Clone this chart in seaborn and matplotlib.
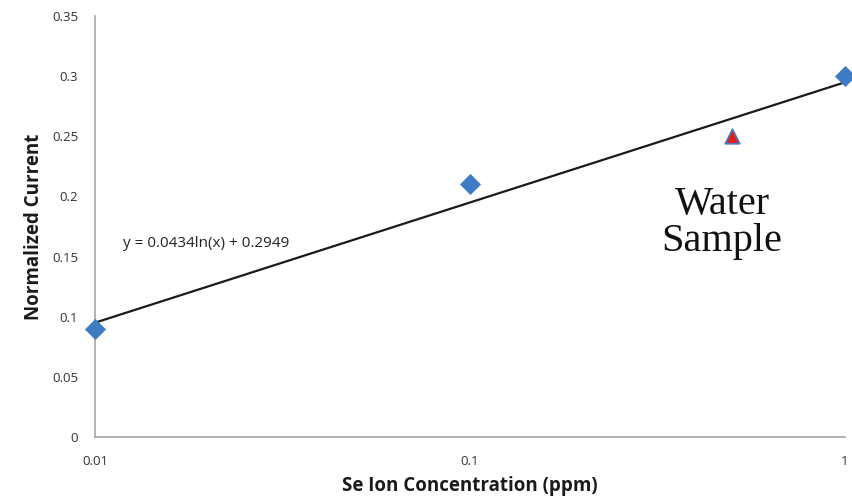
import numpy as np
import pandas as pd
import matplotlib
matplotlib.use("Agg")
import matplotlib.pyplot as plt
import seaborn as sns

# standards (blue diamonds)
conc = [0.01, 0.1, 1.0]
current = [0.09, 0.21, 0.30]

# water sample (red triangle)
sample_conc = [0.5]
sample_current = [0.25]

# log trendline from the chart label
slope = 0.0434
intercept = 0.2949
trend_x = [0.01, 1.0]

yticks = [0, 0.05, 0.1, 0.15, 0.2, 0.25, 0.3, 0.35]
ytick_labels = ["0", "0.05", "0.1", "0.15", "0.2", "0.25", "0.3", "0.35"]
xticks = [0.01, 0.1, 1]
xtick_labels = ["0.01", "0.1", "1"]

sns.set_style("white")
plt.rcParams['font.family'] = ['Open Sans', 'DejaVu Sans']

fig = plt.figure(figsize=(8.52, 5.04), dpi=100)
ax = fig.add_axes([0.1115, 0.1329, 0.8803, 0.8354])

trend = pd.DataFrame({"x": trend_x,
                      "y": [slope * np.log(v) + intercept for v in trend_x]})
sns.lineplot(data=trend, x="x", y="y", ax=ax, color="#1a1a1a", linewidth=1.6)

std = pd.DataFrame({"x": conc, "y": current})
sns.scatterplot(data=std, x="x", y="y", ax=ax, marker="D", s=105,
                color="#3d7cc4", edgecolor="#3d7cc4", linewidth=0.5,
                clip_on=False, zorder=5)
smp = pd.DataFrame({"x": sample_conc, "y": sample_current})
sns.scatterplot(data=smp, x="x", y="y", ax=ax, marker="^", s=110,
                color="#e02020", edgecolor="#4a7bc0", linewidth=1.2,
                clip_on=False, zorder=5)

ax.set_xscale("log")
ax.set_xlim(0.01, 1)
ax.set_ylim(0, 0.35)
ax.set_xticks(xticks)
ax.set_xticklabels(xtick_labels)
ax.minorticks_off()
ax.set_yticks(yticks)
ax.set_yticklabels(ytick_labels)

for s in ["top", "right"]:
    ax.spines[s].set_visible(False)
for s in ["left", "bottom"]:
    ax.spines[s].set_color("#a6a6a6")
    ax.spines[s].set_linewidth(1.2)
ax.tick_params(axis="both", direction="out", length=4, width=1,
               color="#a6a6a6", labelsize=9.5, labelcolor="#333333", pad=8)
ax.tick_params(axis="x", pad=9)

ax.set_xlabel("Se Ion Concentration (ppm)", fontsize=13.5, fontweight="bold",
              color="#1a1a1a", labelpad=6)
ax.set_ylabel("Normalized Current", fontsize=13.5, fontweight="bold",
              color="#1a1a1a", labelpad=6)

ax.text(0.0119, 0.161, "y = 0.0434ln(x) + 0.2949", fontsize=11,
        color="#222222", va="center", ha="left")
ax.text(0.47, 0.178, "Water\nSample", fontsize=29, family="Liberation Serif",
        color="#111111", ha="center", va="center", linespacing=1.0)

fig.savefig("out.png", dpi=100)
